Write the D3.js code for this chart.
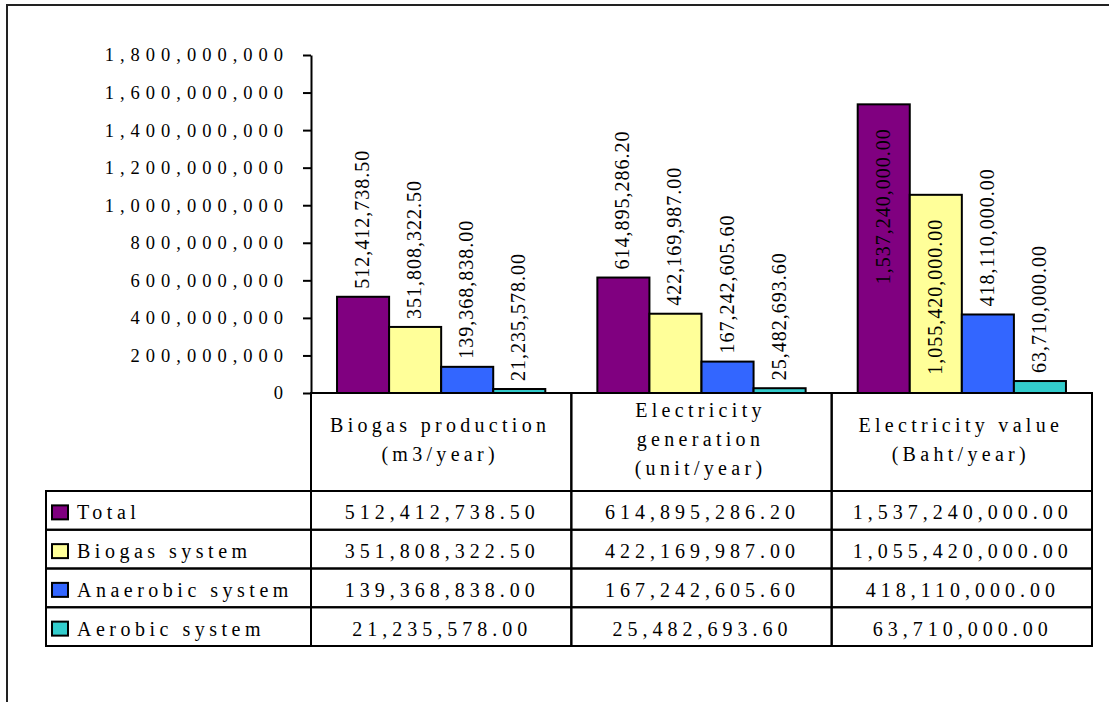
<!DOCTYPE html>
<html>
<head>
<meta charset="utf-8">
<script src="https://cdn.jsdelivr.net/npm/d3@7"></script>
<style>
  html, body { margin: 0; padding: 0; background: #fff; }
  svg, svg text { font-family: "Liberation Serif", "Times New Roman", Times, serif; }
  svg { display: block; }
</style>
</head>
<body>
<svg id="chart" width="1109" height="702"></svg>
<script>
// Categories (column headers, each split into lines)
const categories = ["Biogas production", "Electricity generation", "Electricity value"];
const categoryLines = [
  ["Biogas production", "(m3/year)"],
  ["Electricity", "generation", "(unit/year)"],
  ["Electricity value", "(Baht/year)"]
];
// Series
const seriesNames = ["Total", "Biogas system", "Anaerobic system", "Aerobic system"];
const seriesColors = ["#800080", "#FFFF99", "#3366FF", "#33CCCC"];
const totalValues     = [512412738.50, 614895286.20, 1537240000.00];
const biogasValues    = [351808322.50, 422169987.00, 1055420000.00];
const anaerobicValues = [139368838.00, 167242605.60, 418110000.00];
const aerobicValues   = [21235578.00, 25482693.60, 63710000.00];
const seriesValues = [totalValues, biogasValues, anaerobicValues, aerobicValues];
const yTicks = [0, 200000000, 400000000, 600000000, 800000000, 1000000000,
                1200000000, 1400000000, 1600000000, 1800000000];

const svg = d3.select("#chart");
const fmtTick = d3.format(",");
const fmtVal = d3.format(",.2f");
const FONT = "'Liberation Serif', 'Times New Roman', Times, serif";

// frame around the whole chart area
svg.append("rect")
  .attr("x", 7).attr("y", 5).attr("width", 1200).attr("height", 800)
  .attr("fill", "none").attr("stroke", "#222").attr("stroke-width", 2);

// plot geometry
const plotLeft = 311, plotRight = 1092, plotTop = 55, plotBottom = 393;
const x = d3.scaleBand().domain(categories).range([plotLeft, plotRight]).padding(0);
const xs = d3.scaleBand().domain(seriesNames).range([0, x.bandwidth()])
  .paddingInner(0).paddingOuter(0.5);
const y = d3.scaleLinear().domain([0, 1800000000]).range([plotBottom, plotTop]);

// y axis
const yAxis = d3.axisLeft(y).tickValues(yTicks).tickFormat(fmtTick)
  .tickSizeInner(8).tickSizeOuter(0).tickPadding(20);
const gy = svg.append("g").attr("transform", `translate(${plotLeft},0)`).call(yAxis)
  .attr("font-family", FONT);
gy.select(".domain").attr("stroke", "#000").attr("stroke-width", 2);
gy.selectAll(".tick line").attr("stroke", "#000").attr("stroke-width", 2);
gy.selectAll(".tick text")
  .attr("fill", "#000")
  .attr("font-family", FONT)
  .style("font-size", "18.5px")
  .style("letter-spacing", "6px")
  .attr("dx", "6px");

// bars
const barData = [];
seriesNames.forEach((s, si) => {
  categories.forEach((c, ci) => {
    barData.push({ series: s, si, cat: c, value: seriesValues[si][ci] });
  });
});

svg.append("g").selectAll("rect").data(barData).join("rect")
  .attr("x", d => x(d.cat) + xs(d.series))
  .attr("y", d => y(d.value))
  .attr("width", xs.bandwidth())
  .attr("height", d => y(0) - y(d.value))
  .attr("fill", d => seriesColors[d.si])
  .attr("stroke", "#000").attr("stroke-width", 2);

// value labels, rotated; placed above each bar, or inside when they would not fit
const labelGap = 8;
const lg = svg.append("g").attr("font-family", FONT);
barData.forEach(d => {
  const cx = x(d.cat) + xs(d.series) + xs.bandwidth() / 2;
  const top = y(d.value);
  const g = lg.append("g").attr("transform", `translate(${cx},${top}) rotate(-90)`);
  const t = g.append("text")
    .text(fmtVal(d.value))
    .attr("dy", "0.3em")
    .style("font-size", "20px")
    .style("letter-spacing", "1px")
    .attr("fill", "#000");
  const len = t.node().getComputedTextLength();
  if (top - labelGap - len < plotTop) {
    t.attr("x", -24).attr("text-anchor", "end");
  } else {
    t.attr("x", labelGap).attr("text-anchor", "start");
  }
});

// data table under the plot
const rowTop = 491, rowH = 38.75, tableLeft = 46;
const lineStyle = sel => sel.attr("stroke", "#000").attr("stroke-width", 2);
const tg = svg.append("g").attr("font-family", FONT);
const tableBottom = rowTop + rowH * seriesNames.length;

// header cells borders
categories.forEach(c => {
  tg.append("rect")
    .attr("x", x(c)).attr("y", plotBottom)
    .attr("width", x.bandwidth()).attr("height", tableBottom - plotBottom)
    .attr("fill", "none").call(lineStyle);
});
// row lines across legend + value columns
seriesNames.forEach((s, i) => {
  tg.append("rect")
    .attr("x", tableLeft).attr("y", rowTop + i * rowH)
    .attr("width", plotRight - tableLeft).attr("height", rowH)
    .attr("fill", "none").call(lineStyle);
});
// axis baseline
svg.append("line")
  .attr("x1", plotLeft).attr("x2", plotRight)
  .attr("y1", plotBottom).attr("y2", plotBottom).call(lineStyle);

// header text
const headerLineH = 29;
const headerMidBaseline = 446;
categoryLines.forEach((lines, ci) => {
  const cx = x(categories[ci]) + x.bandwidth() / 2;
  const b0 = headerMidBaseline - (lines.length - 1) * headerLineH / 2;
  lines.forEach((ln, li) => {
    tg.append("text")
      .attr("x", cx - 1).attr("y", b0 + li * headerLineH)
      .attr("text-anchor", "middle")
      .style("font-size", "20px")
      .style("letter-spacing", "4.3px")
      .text(ln);
  });
});

// legend keys + series names, and values
seriesNames.forEach((s, si) => {
  const cy = rowTop + si * rowH + rowH / 2 + 2;
  tg.append("rect")
    .attr("x", 52).attr("y", cy - 7).attr("width", 16).attr("height", 14)
    .attr("fill", seriesColors[si]).attr("stroke", "#000").attr("stroke-width", 2);
  tg.append("text")
    .attr("x", 77).attr("y", cy).attr("dy", "0.35em")
    .style("font-size", "20px").style("letter-spacing", "4.5px")
    .text(s);
  categories.forEach((c, ci) => {
    tg.append("text")
      .attr("x", x(c) + x.bandwidth() / 2 + 1).attr("y", cy).attr("dy", "0.35em")
      .attr("text-anchor", "middle")
      .style("font-size", "20px").style("letter-spacing", "5px")
      .text(fmtVal(seriesValues[si][ci]));
  });
});
</script>
</body>
</html>
